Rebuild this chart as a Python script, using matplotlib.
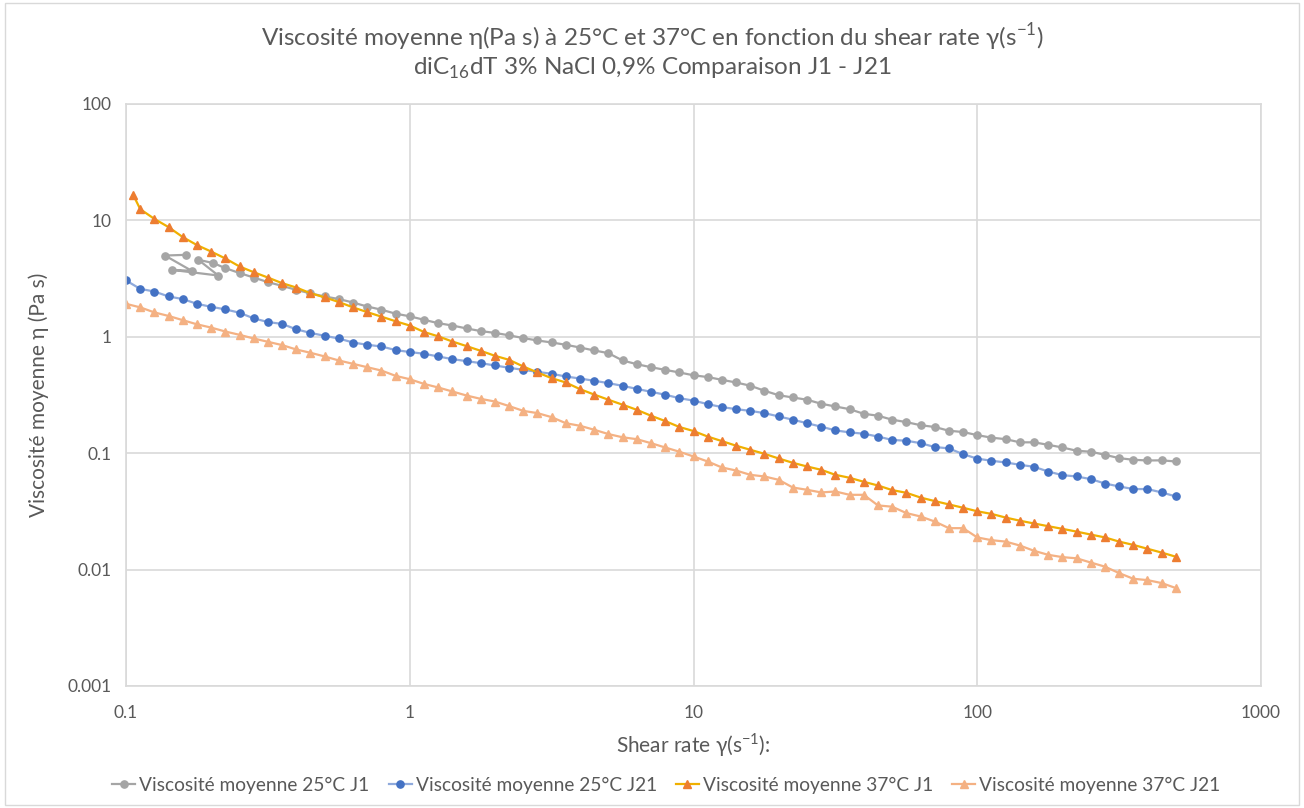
import matplotlib
matplotlib.use("Agg")
import matplotlib.pyplot as plt
from matplotlib.patches import Rectangle

# shear rate grid (s-1), 20 points per decade, 0.1 -> 500
shear_rate = [
    0.1, 0.1122, 0.1259, 0.1413, 0.1585, 0.1778, 0.1995, 0.2239, 0.2512, 0.2818,
    0.3162, 0.3548, 0.3981, 0.4467, 0.5012, 0.5623, 0.6310, 0.7079, 0.7943, 0.8913,
    1.0, 1.122, 1.259, 1.413, 1.585, 1.778, 1.995, 2.239, 2.512, 2.818,
    3.162, 3.548, 3.981, 4.467, 5.012, 5.623, 6.310, 7.079, 7.943, 8.913,
    10.0, 11.22, 12.59, 14.13, 15.85, 17.78, 19.95, 22.39, 25.12, 28.18,
    31.62, 35.48, 39.81, 44.67, 50.12, 56.23, 63.10, 70.79, 79.43, 89.13,
    100.0, 112.2, 125.9, 141.3, 158.5, 177.8, 199.5, 223.9, 251.2, 281.8,
    316.2, 354.8, 398.1, 446.7, 501.2,
]

# 25°C J1: first measured shear rates are scattered
x_25_j1 = [0.1627, 0.1372, 0.1704, 0.1449, 0.2115, 0.1798, 0.2031] + shear_rate[7:]
eta_25_j1 = [
    5.06, 4.99, 3.69, 3.76, 3.36, 4.59, 4.30, 3.89, 3.53, 3.23,
    2.95, 2.74, 2.53, 2.36, 2.22, 2.11, 1.97, 1.82, 1.71, 1.58,
    1.50, 1.40, 1.31, 1.25, 1.18, 1.12, 1.08, 1.03, 0.975, 0.930,
    0.894, 0.854, 0.809, 0.763, 0.724, 0.626, 0.582, 0.548, 0.520, 0.494,
    0.467, 0.451, 0.427, 0.405, 0.380, 0.344, 0.315, 0.301, 0.288, 0.266,
    0.252, 0.239, 0.218, 0.210, 0.194, 0.185, 0.174, 0.168, 0.156, 0.152,
    0.143, 0.136, 0.132, 0.124, 0.124, 0.118, 0.112, 0.105, 0.103, 0.0969,
    0.0907, 0.0878, 0.0866, 0.0868, 0.0849,
]

eta_25_j21 = [
    3.05, 2.58, 2.45, 2.22, 2.11, 1.92, 1.81, 1.72, 1.61, 1.44,
    1.34, 1.29, 1.16, 1.08, 1.02, 0.967, 0.893, 0.854, 0.826, 0.769,
    0.740, 0.715, 0.678, 0.643, 0.618, 0.594, 0.567, 0.542, 0.520, 0.500,
    0.481, 0.456, 0.438, 0.419, 0.400, 0.379, 0.357, 0.337, 0.318, 0.297,
    0.283, 0.264, 0.249, 0.239, 0.231, 0.221, 0.207, 0.194, 0.181, 0.169,
    0.157, 0.151, 0.147, 0.139, 0.130, 0.128, 0.122, 0.113, 0.110, 0.0981,
    0.0898, 0.0861, 0.0833, 0.0795, 0.0764, 0.0696, 0.0648, 0.0631, 0.0599, 0.0549,
    0.0518, 0.0492, 0.0492, 0.0460, 0.0425,
]

x_37_j1 = [0.106] + shear_rate[1:]
eta_37_j1 = [
    16.6, 12.5, 10.3, 8.75, 7.19, 6.14, 5.40, 4.71, 4.02, 3.59,
    3.23, 2.89, 2.65, 2.37, 2.18, 1.99, 1.79, 1.63, 1.49, 1.36,
    1.25, 1.10, 1.01, 0.911, 0.832, 0.758, 0.687, 0.634, 0.556, 0.494,
    0.441, 0.405, 0.355, 0.319, 0.288, 0.261, 0.236, 0.210, 0.189, 0.168,
    0.155, 0.139, 0.127, 0.116, 0.107, 0.0988, 0.0901, 0.0827, 0.0769, 0.0720,
    0.0652, 0.0615, 0.0568, 0.0528, 0.0482, 0.0457, 0.0416, 0.0388, 0.0363, 0.0340,
    0.0317, 0.0301, 0.0280, 0.0263, 0.0249, 0.0236, 0.0224, 0.0212, 0.0200, 0.0189,
    0.0174, 0.0163, 0.0151, 0.0140, 0.0129,
]

eta_37_j21 = [
    1.92, 1.79, 1.62, 1.51, 1.39, 1.28, 1.20, 1.11, 1.04, 0.967,
    0.906, 0.849, 0.778, 0.729, 0.678, 0.626, 0.586, 0.548, 0.513, 0.462,
    0.432, 0.394, 0.367, 0.339, 0.313, 0.293, 0.278, 0.254, 0.231, 0.221,
    0.204, 0.181, 0.172, 0.159, 0.146, 0.137, 0.132, 0.122, 0.112, 0.103,
    0.0937, 0.0849, 0.0754, 0.0710, 0.0652, 0.0631, 0.0591, 0.0507, 0.0485, 0.0460,
    0.0469, 0.0439, 0.0439, 0.0356, 0.0347, 0.0306, 0.0286, 0.0259, 0.0227, 0.0227,
    0.0189, 0.0179, 0.0174, 0.0161, 0.0145, 0.0134, 0.0128, 0.0125, 0.0115, 0.0106,
    0.00933, 0.00834, 0.00812, 0.00766, 0.00694,
]

x_ticks = [0.1, 1, 10, 100, 1000]
x_tick_labels = ["0.1", "1", "10", "100", "1000"]
y_ticks = [0.001, 0.01, 0.1, 1, 10, 100]
y_tick_labels = ["0.001", "0.01", "0.1", "1", "10", "100"]

labels = [
    "Viscosité moyenne 25°C J1",
    "Viscosité moyenne 25°C J21",
    "Viscosité moyenne 37°C J1",
    "Viscosité moyenne 37°C J21",
]

plt.rcParams["font.family"] = ["Lato", "DejaVu Sans"]
text_color = "#595959"
grid_color = "#D9D9D9"

fig = plt.figure(figsize=(13.04, 8.08), dpi=100)
ax = fig.add_axes([126 / 1304, 1 - 686 / 808, (1261 - 126) / 1304, (686 - 104) / 808])

ms = 5.2
lw = 1.6
ax.plot(x_25_j1, eta_25_j1, color="#A5A5A5", lw=lw, marker="o", ms=ms,
        mfc="#A5A5A5", mec="#A5A5A5", label=labels[0])
ax.plot(shear_rate, eta_25_j21, color="#8FAADC", lw=lw, marker="o", ms=ms,
        mfc="#4472C4", mec="#4472C4", label=labels[1])
ax.plot(x_37_j1, eta_37_j1, color="#F0B000", lw=lw, marker="^", ms=ms + 0.6,
        mfc="#ED7D31", mec="#ED7D31", label=labels[2])
ax.plot(shear_rate, eta_37_j21, color="#F4B183", lw=lw, marker="^", ms=ms + 0.6,
        mfc="#F4B183", mec="#F4B183", label=labels[3])

ax.set_xscale("log")
ax.set_yscale("log")
ax.set_xlim(0.1, 1000)
ax.set_ylim(0.001, 100)
ax.set_xticks(x_ticks)
ax.set_xticklabels(x_tick_labels)
ax.set_yticks(y_ticks)
ax.set_yticklabels(y_tick_labels)
ax.minorticks_off()
ax.tick_params(length=0, labelsize=12.5, colors=text_color)
ax.tick_params(axis="x", pad=14)
ax.tick_params(axis="y", pad=10)
ax.grid(True, color=grid_color, lw=1.2)
ax.set_axisbelow(True)
for s in ax.spines.values():
    s.set_color(grid_color)
    s.set_linewidth(1.2)

ax.set_xlabel("Shear rate γ(s$^{\\mathregular{-1}}$):", fontsize=15, color=text_color)
ax.set_ylabel("Viscosité moyenne η (Pa s)", fontsize=15, color=text_color)
ax.xaxis.set_label_coords(0.5, -0.078)
ax.yaxis.set_label_coords(-0.068, 0.5)

fig.text(0.5, 1 - 37 / 808,
         "Viscosité moyenne η(Pa s) à 25°C et 37°C en fonction du shear rate γ(s$^{\\mathregular{-1}}$)",
         ha="center", va="center", fontsize=17.5, color=text_color)
fig.text(0.5, 1 - 68 / 808,
         "diC$_{\\mathregular{16}}$dT 3% NaCl 0,9% Comparaison J1 - J21",
         ha="center", va="center", fontsize=17.5, color=text_color)

leg = fig.legend(loc="center", bbox_to_anchor=(0.511, 1 - 785 / 808), ncol=4,
                 frameon=False, fontsize=13.8, handlelength=1.2, handletextpad=0.2,
                 columnspacing=1.0)
for t in leg.get_texts():
    t.set_color(text_color)

fig.patches.append(Rectangle((0.004, 0.004), 0.992, 0.992, transform=fig.transFigure,
                             fill=False, edgecolor=grid_color, lw=1))

fig.savefig("out.png", dpi=100, facecolor="white")
